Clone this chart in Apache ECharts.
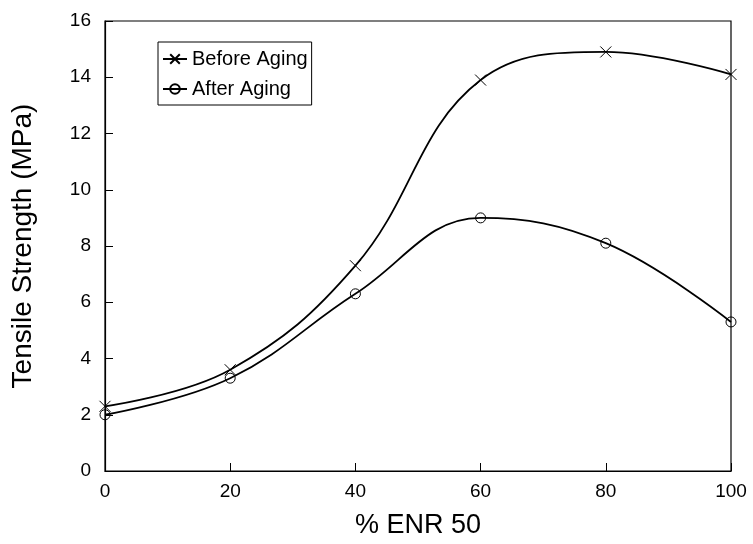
<!DOCTYPE html>
<html>
<head>
<meta charset="utf-8">
<script src="https://cdn.jsdelivr.net/npm/echarts@6/dist/echarts.min.js"></script>
<style>
  html, body { margin: 0; padding: 0; background: #fff; }
  #chart { width: 753px; height: 544px; }
</style>
</head>
<body>
<div id="chart"></div>
<script>
// % ENR 50 content
var enr = [0, 20, 40, 60, 80, 100];
var beforeAging = [2.3, 3.6, 7.3, 13.9, 14.9, 14.1];
var afterAging = [2.0, 3.3, 6.3, 9.0, 8.1, 5.3];

var crossSymbol = 'path://M0,0L10,10M10,0L0,10';
var font = 'Liberation Sans, Arial, sans-serif';

function pairs(xs, ys) {
  return xs.map(function (x, i) { return [x, ys[i]]; });
}

var chart = echarts.init(document.getElementById('chart'));
chart.setOption({
  animation: false,
  grid: {
    left: 105, right: 22, top: 21, bottom: 73,
    outerBoundsMode: 'none',
    show: true, borderColor: '#000', borderWidth: 1.2
  },
  legend: {
    left: 158, top: 42,
    orient: 'vertical',
    backgroundColor: '#fff',
    borderColor: '#000', borderWidth: 1,
    padding: [7, 4, 6, 4],
    itemGap: 10, itemWidth: 24, itemHeight: 12,
    textStyle: { fontFamily: font, fontSize: 20, color: '#000' },
    data: ['Before Aging', 'After Aging']
  },
  xAxis: {
    type: 'value', min: 0, max: 100, interval: 20,
    name: '% ENR 50', nameLocation: 'middle', nameGap: 41,
    nameTextStyle: { fontFamily: font, fontSize: 27, color: '#000' },
    axisLine: { lineStyle: { color: '#000', width: 1.2 } },
    axisTick: { inside: true, length: 8, lineStyle: { color: '#000' } },
    axisLabel: { fontFamily: font, fontSize: 19, color: '#000', margin: 11 },
    splitLine: { show: false }
  },
  yAxis: {
    type: 'value', min: 0, max: 16, interval: 2,
    name: 'Tensile Strength (MPa)', nameLocation: 'middle', nameGap: 68,
    nameTextStyle: { fontFamily: font, fontSize: 28, color: '#000' },
    axisLine: { show: true, lineStyle: { color: '#000', width: 1.2 } },
    axisTick: { show: true, inside: true, length: 8, lineStyle: { color: '#000' } },
    axisLabel: { fontFamily: font, fontSize: 19, color: '#000', margin: 14 },
    splitLine: { show: false }
  },
  series: [
    {
      name: 'Before Aging',
      type: 'line',
      smooth: 0.4,
      data: pairs(enr, beforeAging),
      symbol: crossSymbol,
      symbolSize: 11,
      itemStyle: { color: 'none', borderColor: '#000', borderWidth: 1 },
      lineStyle: { color: '#000', width: 1.8 }
    },
    {
      name: 'After Aging',
      type: 'line',
      smooth: 0.4,
      data: pairs(enr, afterAging),
      symbol: 'circle',
      symbolSize: 10,
      itemStyle: { color: 'none', borderColor: '#000', borderWidth: 1 },
      lineStyle: { color: '#000', width: 1.8 }
    }
  ]
});
</script>
</body>
</html>
